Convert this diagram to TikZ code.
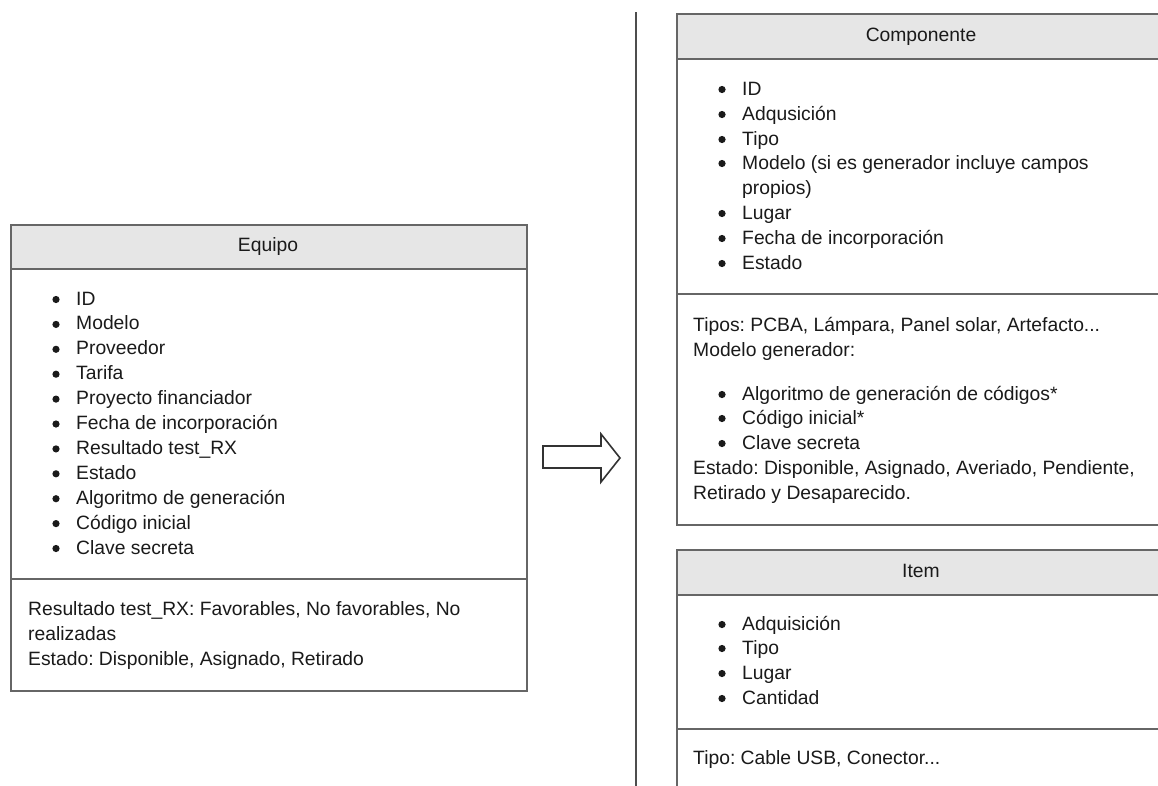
\documentclass[tikz,border=0pt]{standalone}
\usepackage{fontspec}
\setmainfont{Liberation Sans}
\definecolor{edge}{RGB}{102,102,102}
\definecolor{headfill}{RGB}{230,230,230}
\definecolor{ink}{RGB}{26,26,26}
\tikzset{
  panel/.style={draw=edge, line width=2.4pt, fill=white, anchor=north west, inner sep=0pt},
  headbar/.style={draw=edge, line width=2.4pt, fill=headfill, anchor=north west, inner sep=0pt},
  txt/.style={anchor=base west, inner sep=0pt, text=ink, font=\fontsize{19.3pt}{25pt}\selectfont\frenchspacing},
  ttl/.style={anchor=base, inner sep=0pt, text=ink, font=\fontsize{19.3pt}{25pt}\selectfont},
  divider/.style={draw=edge, line width=2.4pt},
  dot/.style={fill=ink},
}
% list entry: a disc bullet left of the text, on its x-height
\newcommand\entry[3]{%
  \node[txt] (#1) at #2 {#3};
  \fill[dot] ([xshift=-20pt,yshift=5.5pt]#1.base west) circle (3.6pt);
}
\begin{document}
\begin{tikzpicture}[x=1pt,y=-1pt]
\useasboundingbox (0,0) rectangle (1158,785);
\clip (0,0) rectangle (1158,785);
\fill[white] (0,0) rectangle (1158,785);

% Equipo
\node[panel, minimum width=516pt, minimum height=466pt] (eq) at (10,224) {};
\node[headbar, minimum width=516pt, minimum height=44pt] (eqh) at (10,224) {};
\node[ttl] (eqt) at (268,251) {Equipo};
\draw[divider] (10,579) -- (526,579);
\foreach \t [count=\i] in {ID, Modelo, Proveedor, Tarifa, Proyecto financiador,
  Fecha de incorporación, Resultado test\_RX, Estado, Algoritmo de generación,
  Código inicial, Clave secreta}
  {\entry{eq-\i}{(76,{305+24.9*(\i-1)})}{\t}}
\node[txt] (eqn1) at (28,615) {Resultado test\_RX: Favorables, No favorables, No};
\node[txt] (eqn2) at (28,640) {realizadas};
\node[txt] (eqn3) at (28,665) {Estado: Disponible, Asignado, Retirado};

% arrow
\draw[draw={rgb,255:red,51;green,51;blue,51}, line width=1.6pt, fill=white, line join=miter]
  (543,446) -- (601,446) -- (601,434) -- (620,458) -- (601,482) -- (601,468) -- (543,468) -- cycle;

% separator
\coordinate (sepTop) at (636,12);
\coordinate (sepBot) at (636,790);
\draw[draw={rgb,255:red,77;green,77;blue,77}, line width=2pt] (sepTop) -- (sepBot);

% Componente
\node[panel, minimum width=490pt, minimum height=511pt] (co) at (676,13) {};
\node[headbar, minimum width=490pt, minimum height=45pt] (coh) at (676,13) {};
\node[ttl] (cot) at (921,41) {Componente};
\draw[divider] (676,294) -- (1166,294);
\entry{co-1}{(742,95)}{ID}
\entry{co-2}{(742,120)}{Adqusición}
\entry{co-3}{(742,145)}{Tipo}
\entry{co-4}{(742,169)}{Modelo (si es generador incluye campos}
\node[txt] (co-5) at (742,194) {propios)};
\entry{co-6}{(742,219)}{Lugar}
\entry{co-7}{(742,244)}{Fecha de incorporación}
\entry{co-8}{(742,269)}{Estado}
\node[txt] (con1) at (693,331) {Tipos: PCBA, Lámpara, Panel solar, Artefacto...};
\node[txt] (con2) at (693,356) {Modelo generador:};
\entry{con3}{(742,400)}{Algoritmo de generación de códigos*}
\entry{con4}{(742,424)}{Código inicial*}
\entry{con5}{(742,449)}{Clave secreta}
\node[txt] (con6) at (693,474) {Estado: Disponible, Asignado, Averiado, Pendiente,};
\node[txt] (con7) at (693,499) {Retirado y Desaparecido.};

% Item
\node[panel, minimum width=490pt, minimum height=260pt] (it) at (676,549) {};
\node[headbar, minimum width=490pt, minimum height=45pt] (ith) at (676,549) {};
\node[ttl] (itt) at (921,577) {Item};
\draw[divider] (676,729) -- (1166,729);
\entry{it-1}{(742,630)}{Adquisición}
\entry{it-2}{(742,654)}{Tipo}
\entry{it-3}{(742,679)}{Lugar}
\entry{it-4}{(742,704)}{Cantidad}
\node[txt] (itn1) at (693,764) {Tipo: Cable USB, Conector...};
\end{tikzpicture}
\end{document}
